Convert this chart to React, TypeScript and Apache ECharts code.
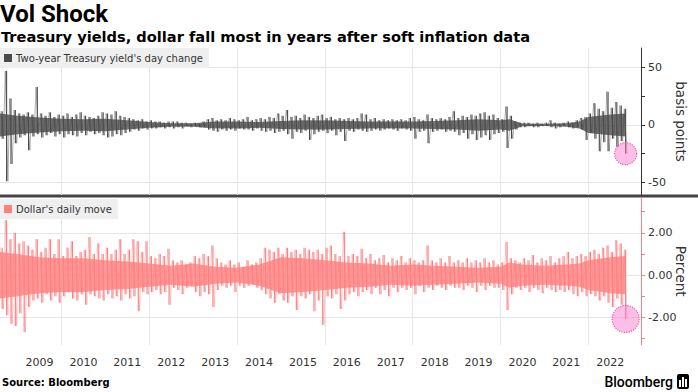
import React, { useEffect, useRef } from "react";
import * as echarts from "echarts";

// ---- Data ----
// Daily moves are summarised per bin of 0.1 year (starting 2008.6):
// the highest and the lowest move inside each bin.
const BIN_START = 2008.6;
const BIN_STEP = 0.1;

const X_MIN = 2008.6;
const X_MAX = 2023.2;

const yearLabels = [2009, 2010, 2011, 2012, 2013, 2014, 2015, 2016, 2017, 2018, 2019, 2020, 2021, 2022];
const gridYears = [2010, 2012, 2014, 2016, 2018, 2020, 2022];

const yieldName = "Two-year Treasury yield's day change";
const dollarName = "Dollar's daily move";

// basis points: bin highs / lows
const yieldHigh = [
  12, 47, 23, 13, 10, 9, 11, 9, 33, 10,
  8, 11, 7, 9, 8, 10, 7, 9, 11, 8,
  7, 6, 8, 11, 10, 9, 12, 8, 7, 6,
  5, 4, 5, 3, 4, 3, 3, 2, 3, 3,
  3, 2, 2, 1, 2, 1, 3, 5, 6, 4,
  5, 4, 6, 5, 4, 5, 7, 4, 5, 6,
  5, 7, 6, 10, 8, 13, 7, 8, 6, 9,
  7, 6, 8, 9, 6, 7, 5, 6, 5, 6,
  5, 6, 10, 9, 5, 6, 4, 5, 4, 5,
  4, 5, 4, 6, 7, 5, 4, 9, 6, 5,
  6, 5, 7, 12, 6, 8, 7, 9, 8, 10,
  11, 8, 9, 6, 5, 16, 8, 3, 2, 2,
  2, 1, 2, 1, 2, 4, 2, 1, 2, 3,
  2, 4, 6, 7, 10, 19, 14, 12, 29, 15,
  20, 17, 14,
];
const yieldLow = [
  -12, -49, -34, -16, -11, -9, -22, -10, -8, -11,
  -9, -7, -10, -8, -11, -8, -9, -10, -7, -9,
  -6, -8, -7, -9, -11, -10, -8, -9, -7, -6,
  -4, -5, -3, -4, -3, -3, -2, -3, -2, -3,
  -2, -3, -1, -2, -1, -2, -2, -4, -5, -6,
  -4, -5, -4, -5, -3, -4, -4, -5, -3, -5,
  -6, -5, -7, -6, -5, -8, -12, -6, -7, -5,
  -13, -8, -6, -5, -7, -5, -9, -6, -14, -5,
  -6, -4, -5, -6, -5, -4, -5, -4, -3, -4,
  -5, -3, -4, -5, -12, -6, -5, -16, -6, -5,
  -4, -6, -5, -6, -9, -7, -12, -8, -13, -11,
  -9, -13, -8, -7, -6, -20, -12, -4, -2, -2,
  -1, -2, -2, -1, -1, -2, -3, -2, -1, -2,
  -3, -2, -4, -13, -7, -12, -23, -15, -23, -12,
  -19, -14, -25,
];

// percent: bin highs / lows
const dollarHigh = [
  1.3, 2.6, 1.7, 2.0, 1.5, 1.6, 1.4, 1.2, 1.7, 1.1,
  1.3, 1.7, 1.0, 1.7, 0.9, 1.3, 1.6, 0.9, 1.1, 1.2,
  1.8, 1.0, 1.5, 1.0, 1.3, 1.0, 1.2, 1.7, 1.0, 1.2,
  1.7, 1.6, 1.1, 1.6, 0.9, 0.8, 1.0, 0.9, 1.25, 0.7,
  0.6, 0.7, 0.5, 0.6, 0.9, 0.8, 1.0, 0.9, 1.4, 0.8,
  0.6, 0.5, 0.7, 0.5, 0.6, 0.4, 0.7, 0.5, 0.6, 0.8,
  1.3, 1.2, 1.1, 1.3, 1.0, 1.3, 1.1, 1.2, 1.0, 1.3,
  1.2, 1.1, 1.2, 1.0, 1.3, 1.4, 1.0, 0.9, 2.05, 0.9,
  1.0, 0.9, 1.25, 0.8, 1.0, 0.7, 0.8, 0.95, 0.6, 0.8,
  0.7, 0.9, 0.6, 0.8, 0.7, 0.6, 0.7, 1.4, 0.7, 0.6,
  0.8, 0.6, 0.9, 0.6, 0.7, 0.6, 0.8, 0.6, 0.7, 0.6,
  0.8, 0.6, 0.7, 0.5, 0.6, 1.57, 0.8, 0.7, 0.6, 0.8,
  0.7, 0.95, 0.6, 0.8, 0.7, 0.9, 0.6, 0.8, 0.9, 1.1,
  0.8, 0.9, 1.0, 0.9, 1.1, 1.2, 1.0, 1.3, 1.4, 1.1,
  1.65, 1.5, 1.2,
];
const dollarLow = [
  -1.6, -1.9, -2.3, -2.4, -1.8, -2.7, -1.5, -1.2, -1.1, -1.3,
  -0.9, -1.2, -1.0, -1.3, -1.0, -0.8, -1.1, -1.2, -0.9, -1.4,
  -0.9, -1.0, -1.1, -1.2, -0.9, -1.1, -1.0, -1.2, -0.9, -1.1,
  -1.0, -1.7, -0.8, -0.9, -0.8, -0.7, -0.9, -0.8, -1.4, -0.6,
  -0.7, -0.9, -0.6, -0.5, -0.8, -1.0, -0.8, -0.9, -1.5, -0.7,
  -0.5, -0.6, -0.5, -0.8, -0.5, -0.6, -0.5, -0.4, -0.6, -0.7,
  -0.9, -1.1, -1.3, -0.9, -1.2, -1.3, -1.0, -1.65, -1.0, -1.1,
  -0.9, -1.7, -1.2, -2.35, -1.0, -1.1, -0.9, -1.6, -1.2, -0.9,
  -0.8, -1.0, -0.8, -0.7, -0.9, -0.6, -0.9, -0.7, -1.0, -0.6,
  -0.8, -0.6, -0.7, -0.6, -0.9, -0.5, -0.8, -0.6, -0.7, -0.5,
  -0.6, -0.7, -0.5, -0.6, -0.6, -0.7, -0.5, -0.6, -0.8, -0.5,
  -0.7, -0.5, -0.6, -0.6, -0.7, -1.65, -0.9, -0.6, -0.7, -0.6,
  -0.8, -0.6, -0.7, -0.86, -0.6, -0.7, -0.8, -0.7, -0.8, -0.7,
  -0.9, -1.0, -0.8, -1.0, -0.9, -1.0, -1.2, -1.0, -1.3, -1.5,
  -1.1, -1.4, -2.07,
];

// typical (dense core) size of the daily moves, read at these dates
const coreTimes = [
  2008.6, 2009.0, 2009.5, 2010.0, 2010.5, 2011.0, 2011.5, 2012.0, 2012.5, 2013.0,
  2013.5, 2014.0, 2014.5, 2015.0, 2015.5, 2016.0, 2016.5, 2017.0, 2017.5, 2018.0,
  2018.5, 2019.0, 2019.5, 2020.0, 2020.2, 2020.5, 2021.0, 2021.5, 2021.8, 2022.0,
  2022.5, 2022.85,
];
const yieldCore = [
  10, 8, 6.5, 5.5, 5, 5.5, 4, 2.5, 1.5, 1.5,
  3, 3, 2.5, 3.5, 4, 4, 3.5, 3, 3, 3,
  3.5, 4, 5, 4, 5, 1.2, 1, 1.5, 3, 7,
  9, 10,
];
const dollarCore = [
  1.1, 1.0, 0.85, 0.8, 0.8, 0.7, 0.65, 0.55, 0.45, 0.55,
  0.4, 0.35, 0.5, 0.85, 0.8, 0.7, 0.6, 0.55, 0.45, 0.5,
  0.45, 0.4, 0.35, 0.4, 0.6, 0.5, 0.45, 0.5, 0.55, 0.7,
  0.85, 0.9,
];

const yieldTicks = [-50, -25, 0, 25, 50];
const yieldLabels = [-50, 0, 50];
const dollarTicks = [-3, -2, -1, 0, 1, 2, 3];
const dollarLabels = [-2, 0, 2];

const FONT = "DejaVu Sans";
const YIELD_COLOR = "#4a4a4a";
const DOLLAR_COLOR = "#ff7f7f";
const GRID_COLOR = "#e6e6e6";

export default function App() {
  const ref = useRef<HTMLDivElement>(null);

  useEffect(() => {
    if (!ref.current) return;
    const chart = echarts.init(ref.current, undefined, { renderer: "svg" });

    const binData = (high: number[], low: number[]) =>
      high.map((h, i) => [BIN_START + BIN_STEP * (i + 0.5), h, low[i]]);

    const zigzag = (high: number[], low: number[]) => {
      const out: number[][] = [];
      high.forEach((h, i) => {
        const t = BIN_START + BIN_STEP * i;
        out.push([t + BIN_STEP * 0.2, h]);
        out.push([t + BIN_STEP * 0.8, low[i]]);
      });
      return out;
    };

    const spikeSeries = (name: string, axis: number, high: number[], low: number[], color: string) => ({
      name,
      type: "custom",
      xAxisIndex: axis,
      yAxisIndex: axis,
      data: binData(high, low),
      encode: { x: 0, y: [1, 2] },
      silent: true,
      z: 4,
      itemStyle: { color },
      renderItem: (_p: any, api: any) => {
        const t = api.value(0);
        const a = api.coord([t, api.value(1)]);
        const b = api.coord([t, api.value(2)]);
        return {
          type: "line",
          shape: { x1: a[0], y1: a[1], x2: b[0], y2: b[1] },
          style: { stroke: color, lineWidth: 1.1 },
        };
      },
    });

    const zigzagSeries = (axis: number, high: number[], low: number[], color: string) => ({
      type: "line",
      xAxisIndex: axis,
      yAxisIndex: axis,
      data: zigzag(high, low),
      showSymbol: false,
      symbol: "none",
      silent: true,
      z: 3,
      lineStyle: { color, width: 0.8, opacity: 0.55 },
    });

    const coreSeries = (axis: number, core: number[], color: string) => ({
      type: "custom",
      xAxisIndex: axis,
      yAxisIndex: axis,
      data: coreTimes.map((t, i) => [t, core[i]]),
      encode: { x: 0, y: 1 },
      silent: true,
      z: 3,
      renderItem: (p: any, api: any) => {
        const i = p.dataIndex;
        if (i >= coreTimes.length - 1) return null;
        const t0 = coreTimes[i];
        const t1 = coreTimes[i + 1];
        const c0 = core[i];
        const c1 = core[i + 1];
        const pts = [
          api.coord([t0, c0]),
          api.coord([t1, c1]),
          api.coord([t1, -c1]),
          api.coord([t0, -c0]),
        ];
        return {
          type: "polygon",
          shape: { points: pts },
          style: { fill: color, opacity: 0.8 },
        };
      },
    });

    const gridLines = (levels: number[]) => ({
      silent: true,
      symbol: "none",
      z: 1,
      label: { show: false },
      emphasis: { disabled: true },
      lineStyle: { color: GRID_COLOR, width: 1, type: "solid" },
      data: [
        ...gridYears.map((y) => ({ xAxis: y })),
        ...levels.map((v) => ({ yAxis: v })),
      ],
    });

    const lastPoint = (low: number[]) => [BIN_START + BIN_STEP * (low.length - 0.5), low[low.length - 1]];

    const circleSeries = (axis: number, low: number[], size: number, levels: number[]) => ({
      type: "scatter",
      xAxisIndex: axis,
      yAxisIndex: axis,
      data: [lastPoint(low)],
      symbol: "circle",
      symbolSize: size,
      silent: true,
      z: 5,
      itemStyle: {
        color: "rgba(255, 120, 205, 0.6)",
        borderColor: "#e0409a",
        borderWidth: 1.2,
        borderType: "dotted",
      },
      markLine: gridLines(levels),
    });

    const legendBase = {
      orient: "horizontal",
      backgroundColor: "#efefef",
      padding: [5, 6, 5, 4],
      itemWidth: 8,
      itemHeight: 8,
      itemGap: 4,
      selectedMode: false,
      textStyle: { fontFamily: FONT, fontSize: 10, color: "#333", padding: [0, 0, 0, -1] },
    };

    const option: any = {
      animation: false,
      backgroundColor: "#ffffff",
      textStyle: { fontFamily: FONT },
      title: [
        {
          text: "Vol Shock",
          left: 0,
          top: 1,
          padding: 0,
          textStyle: { fontFamily: "Roboto", fontWeight: "bold", fontSize: 24, color: "#000", lineHeight: 26 },
        },
        {
          text: "Treasury yields, dollar fall most in years after soft inflation data",
          left: 1,
          top: 28,
          padding: 0,
          textStyle: { fontFamily: FONT, fontWeight: "bold", fontSize: 14.6, color: "#000", lineHeight: 16 },
        },
      ],
      legend: [
        { ...legendBase, data: [{ name: yieldName, icon: "rect", itemStyle: { color: YIELD_COLOR } }], left: 0, top: 48 },
        { ...legendBase, data: [{ name: dollarName, icon: "rect", itemStyle: { color: DOLLAR_COLOR } }], left: 0, top: 199 },
      ],
      grid: [
        { left: 0, right: 57, top: 48, height: 147, containLabel: false, outerBoundsMode: "none" },
        { left: 0, right: 57, top: 197.5, height: 147.5, containLabel: false, outerBoundsMode: "none" },
      ],
      xAxis: [
        {
          type: "value",
          gridIndex: 0,
          min: X_MIN,
          max: X_MAX,
          show: false,
          splitLine: { show: false },
        },
        {
          type: "value",
          gridIndex: 1,
          min: X_MIN,
          max: X_MAX,
          axisLine: { show: false },
          axisTick: { show: false },
          splitLine: { show: false },
          axisLabel: {
            customValues: yearLabels.map((y) => y + 0.5),
            formatter: (v: number) => String(Math.floor(v)),
            color: "#333",
            fontFamily: FONT,
            fontSize: 11,
            margin: 12,
          },
        },
      ],
      yAxis: [
        {
          type: "value",
          gridIndex: 0,
          position: "right",
          min: -61,
          max: 67,
          splitLine: { show: false },
          axisLine: { show: true, lineStyle: { color: "#333", width: 1 } },
          axisTick: { show: true, length: 4, customValues: yieldTicks, lineStyle: { color: "#333" } },
          axisLabel: {
            customValues: yieldLabels,
            formatter: (v: number) => String(v),
            color: "#333",
            fontFamily: FONT,
            fontSize: 11,
            margin: 7,
          },
          name: "basis points",
          nameLocation: "middle",
          nameRotate: -90,
          nameGap: 33,
          nameMoveOverlap: false,
          nameTextStyle: { fontFamily: FONT, fontSize: 13.5, color: "#333" },
        },
        {
          type: "value",
          gridIndex: 1,
          position: "right",
          min: -3.3,
          max: 3.67,
          splitLine: { show: false },
          axisLine: { show: true, lineStyle: { color: DOLLAR_COLOR, width: 1 } },
          axisTick: { show: true, length: 4, customValues: dollarTicks, lineStyle: { color: DOLLAR_COLOR } },
          axisLabel: {
            customValues: dollarLabels,
            formatter: (v: number) => v.toFixed(2),
            color: "#333",
            fontFamily: FONT,
            fontSize: 11,
            margin: 7,
          },
          name: "Percent",
          nameLocation: "middle",
          nameRotate: -90,
          nameGap: 33,
          nameMoveOverlap: false,
          nameTextStyle: { fontFamily: FONT, fontSize: 13.5, color: "#333" },
        },
      ],
      series: [
        coreSeries(0, yieldCore, YIELD_COLOR),
        zigzagSeries(0, yieldHigh, yieldLow, YIELD_COLOR),
        spikeSeries(yieldName, 0, yieldHigh, yieldLow, YIELD_COLOR),
        circleSeries(0, yieldLow, 22, [50, 0, -50]),
        coreSeries(1, dollarCore, DOLLAR_COLOR),
        zigzagSeries(1, dollarHigh, dollarLow, DOLLAR_COLOR),
        spikeSeries(dollarName, 1, dollarHigh, dollarLow, DOLLAR_COLOR),
        circleSeries(1, dollarLow, 27, [2, 0, -2]),
      ],
      graphic: [
        {
          type: "rect",
          shape: { x: 0, y: 194.5, width: 698, height: 3 },
          style: { fill: "#444" },
          silent: true,
        },
        {
          type: "text",
          x: 2,
          y: 382,
          style: {
            text: "Source: Bloomberg",
            fontFamily: FONT,
            fontWeight: "bold",
            fontSize: 10,
            fill: "#000",
            verticalAlign: "middle",
          },
        },
        {
          type: "text",
          x: 673,
          y: 382,
          style: {
            text: "Bloomberg",
            fontFamily: "Roboto",
            fontWeight: 500,
            fontSize: 14,
            fill: "#000",
            align: "right",
            verticalAlign: "middle",
          },
        },
        { type: "rect", shape: { x: 677, y: 374, width: 12, height: 15, r: 2 }, style: { fill: "#000" } },
        { type: "rect", shape: { x: 679, y: 380, width: 2, height: 7 }, style: { fill: "#fff" } },
        { type: "rect", shape: { x: 682, y: 377, width: 2, height: 10 }, style: { fill: "#fff" } },
        { type: "rect", shape: { x: 685, y: 379, width: 2, height: 8 }, style: { fill: "#fff" } },
      ],
    };

    chart.setOption(option);
    return () => chart.dispose();
  }, []);

  return (
    <div
      ref={ref}
      style={{ position: "absolute", left: 0, top: 0, width: 698, height: 392 }}
    />
  );
}
